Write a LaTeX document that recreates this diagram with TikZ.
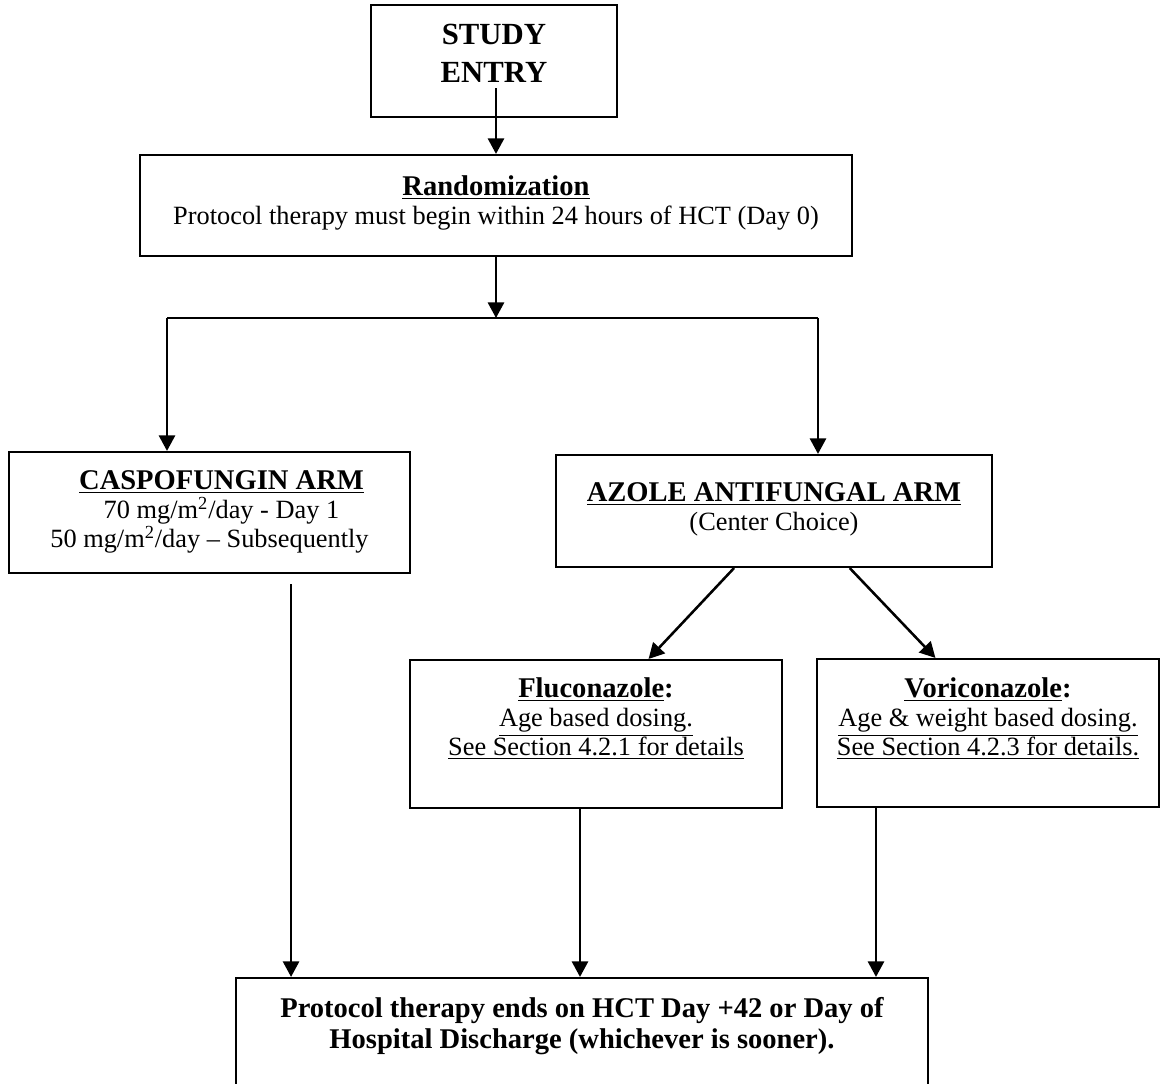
\documentclass[tikz,border=0pt]{standalone}
\usepackage{fontspec}
\setmainfont{Liberation Serif}
\usetikzlibrary{arrows.meta,positioning,calc}
\newcommand{\px}{0.02cm}
\newcommand{\ttl}[1]{{\fontsize{16.25}{16.5}\selectfont\bfseries #1}}

\begin{document}
\begin{tikzpicture}[x=0.02cm, y=-0.02cm, line width=1.2pt, >={Triangle[length=0.31cm,width=0.32cm]},
  box/.style={draw, line width=1.2pt, inner sep=0pt},
  txt/.style={inner sep=0pt, align=center, font=\fontsize{15}{16.5}\selectfont},
  arr/.style={->, line width=1.45pt}]
\useasboundingbox (0,0) rectangle (1161,1084);
% the boxes
\node[box, minimum width=246*\px, minimum height=112*\px] (entry) at (494,61) {};
\node[box, minimum width=712*\px, minimum height=101*\px] (rand) at (496,205.5) {};
\node[box, minimum width=401*\px, minimum height=121*\px] (caspo) at (209.5,512.5) {};
\node[box, minimum width=436*\px, minimum height=112*\px] (azole) at (774,511) {};
\node[box, minimum width=372*\px, minimum height=148*\px] (fluco) at (596,734) {};
\node[box, minimum width=342*\px, minimum height=148*\px] (vori) at (988,733) {};
\node[box, minimum width=692*\px, minimum height=124*\px] (final) at (582,1040) {};
% the texts
\node[txt, font=\fontsize{17.5}{21.5}\selectfont\bfseries, below=0.38cm of entry.north] (entrytxt) {STUDY\\ENTRY};
\node[txt, below=0.42cm of rand.north] (randtxt) {\ttl{\underline{Randomization}}\\Protocol therapy must begin within 24 hours of HCT (Day 0)};
\node[txt, below=0.38cm of caspo.north] (caspotxt) {\hspace*{0.48cm}\ttl{\underline{CASPOFUNGIN ARM}}\\\hspace*{0.48cm}70 mg/m\textsuperscript{2}/day - Day 1\\50 mg/m\textsuperscript{2}/day – Subsequently};
\node[txt, below=0.56cm of azole.north] (azoletxt) {\ttl{\underline{AZOLE ANTIFUNGAL ARM}}\\(Center Choice)};
\node[txt, below=0.36cm of fluco.north] (flucotxt) {\ttl{\underline{Fluconazole}:}\\\underline{Age based dosing.}\\\underline{See Section 4.2.1 for details}};
\node[txt, below=0.38cm of vori.north] (voritxt) {\ttl{\underline{Voriconazole}:}\\\underline{Age \& weight based dosing.}\\\underline{See Section 4.2.3 for details.}};
\node[txt, font=\fontsize{16.25}{18}\selectfont\bfseries, below=0.38cm of final.north] (finaltxt) {Protocol therapy ends on HCT Day +42 or Day of\\Hospital Discharge (whichever is sooner).};
% the arrows
\coordinate (split) at (496,318);
\coordinate (splitL) at (167,318);
\coordinate (splitR) at (818,318);
\path (rand.north |- entrytxt.south) ++(0,5) coordinate (ed);
\draw[arr] (ed) -- (rand.north);
\draw[arr] (rand.south) -- (split);
\draw (splitL) -- (splitR);
\draw[arr] (splitL) -- (splitL |- caspo.north);
\draw[arr] (splitR) -- (splitR |- azole.north);
\draw[arr] (azole.235) -- (fluco.55);
\draw[arr] (azole.323) -- (vori.125);
\path (caspo.south east) ++(-120,10) coordinate (cd);
\path (fluco.south) ++(-16,0) coordinate (fd);
\path (vori.south) ++(-112,0) coordinate (vd);
\draw[arr] (cd) -- (cd |- final.north);
\draw[arr] (fd) -- (fd |- final.north);
\draw[arr] (vd) -- (vd |- final.north);
\end{tikzpicture}
\end{document}
